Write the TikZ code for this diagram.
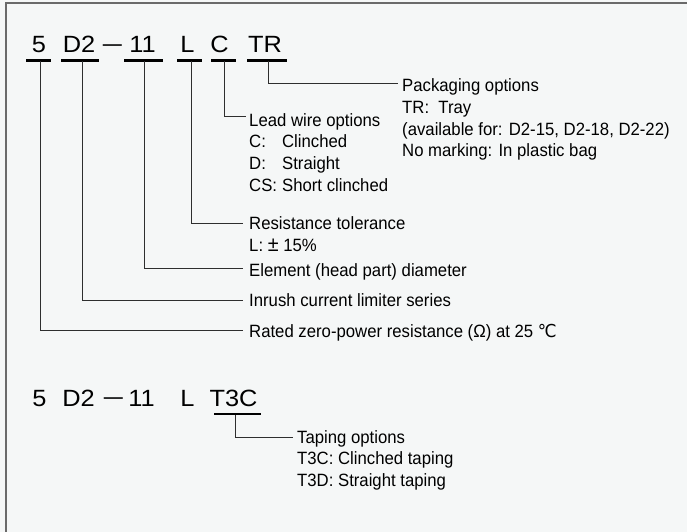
\documentclass[tikz,border=0pt]{standalone}
\usepackage{fontspec}
\usepackage{graphicx}
\setmainfont{Liberation Sans}[FakeStretch=0.94]
\newfontfamily\codefont{Liberation Sans}[FakeStretch=1.08]
\newfontfamily\djv{DejaVu Sans}[FakeStretch=0.94]
\definecolor{bg}{HTML}{F5F7F7}
\definecolor{ln}{HTML}{2E2E2E}
\definecolor{fr}{HTML}{6A6A6A}
\newcommand{\codedash}{\raisebox{1.5bp}{\scalebox{0.75}[1]{—}}}
\newcommand{\tabl}[1]{\makebox[1.85em][l]{#1}}
\newcommand{\bigpm}{{\fontsize{21bp}{21bp}\selectfont ±}}
\begin{document}
\begin{tikzpicture}[x=1bp,y=-1bp,
  lbl/.style={anchor=base west, inner sep=0pt, font=\fontsize{17.8bp}{21.7bp}\selectfont, text=black},
  code/.style={anchor=base, inner sep=0pt, font=\codefont\fontsize{23.5bp}{23.5bp}\selectfont, text=black},
  uline/.style={line width=2.5bp, draw=black},
  conn/.style={line width=1bp, draw=ln},
]
\fill[bg] (0,0) rectangle (687,532);
\useasboundingbox (0,0) rectangle (687,532);
\draw[line width=1.6bp, draw=fr] (6,532) -- (6,3) -- (687,3);

% ---------- top code ----------
\node[code] (k5)  at (39,53)    {5};
\node[code] (kD2) at (79,53)    {D2};
\node[code] (kda) at (112.5,53) {\codedash};
\node[code] (k11) at (142.5,53) {11};
\node[code] (kL)  at (187.5,53) {L};
\node[code] (kC)  at (219.5,53) {C};
\node[code] (kTR) at (265,53)   {TR};

\draw[uline] (26,60.5) -- (51,60.5);
\draw[uline] (61,60.5) -- (99,60.5);
\draw[uline] (124,60.5) -- (163,60.5);
\draw[uline] (177,60.5) -- (202,60.5);
\draw[uline] (211,60.5) -- (236,60.5);
\draw[uline] (247,60.5) -- (287,60.5);

\coordinate (u5)  at (40,61.5);
\coordinate (uD2) at (82,61.5);
\coordinate (u11) at (144,61.5);
\coordinate (uL)  at (191,61.5);
\coordinate (uC)  at (224,61.5);
\coordinate (uTR) at (268,61.5);

\coordinate (eTR) at (398,84);
\coordinate (eC)  at (246,117);
\coordinate (eL)  at (243,224);
\coordinate (e11) at (243,268);
\coordinate (eD2) at (243,300);
\coordinate (e5)  at (243,330);

\draw[conn] (uTR) |- (eTR);
\draw[conn] (uC)  |- (eC);
\draw[conn] (uL)  |- (eL);
\draw[conn] (u11) |- (e11);
\draw[conn] (uD2) |- (eD2);
\draw[conn] (u5)  |- (e5);

% Packaging
\node[lbl] (p1) at (402,92)    {Packaging options};
\node[lbl] (p2) at (402,113.7) {TR:\ \ Tray};
\node[lbl] (p3) at (402,135.4) {(available for: D2-15, D2-18, D2-22)};
\node[lbl] (p4) at (402,157)   {No marking: In plastic bag};

% Lead wire
\node[lbl] (w1) at (249,126.5) {Lead wire options};
\node[lbl] (w2) at (249,148)   {\tabl{C:}Clinched};
\node[lbl] (w3) at (249,170)   {\tabl{D:}Straight};
\node[lbl] (w4) at (249,191.5) {\tabl{CS:}Short clinched};

% Tolerance
\node[lbl] (r1) at (249,229.5) {Resistance tolerance};
\node[lbl] (r2) at (249,252)   {L: \bigpm\ 15\%};

\node[lbl] (el) at (249,276)   {Element (head part) diameter};
\node[lbl] (in) at (249,306.5) {Inrush current limiter series};
\node[lbl] (ra) at (249,337)   {Rated zero-power resistance (Ω) at 25 {\djv ℃}};

% ---------- bottom code ----------
\node[code] (b5)  at (39.5,406)  {5};
\node[code] (bD2) at (78.5,406)  {D2};
\node[code] (bda) at (113.5,406) {\codedash};
\node[code] (b11) at (141.5,406) {11};
\node[code] (bL)  at (187.5,406) {L};
\node[code] (bT)  at (233.5,406) {T3C};

\draw[uline] (214,414) -- (261,414);
\coordinate (uT) at (235,415);
\coordinate (eT) at (293,437);
\draw[conn] (uT) |- (eT);

\node[lbl] (t1) at (297,443.5) {Taping options};
\node[lbl] (t2) at (297,464.5) {T3C: Clinched taping};
\node[lbl] (t3) at (297,486)   {T3D: Straight taping};
\end{tikzpicture}
\end{document}
